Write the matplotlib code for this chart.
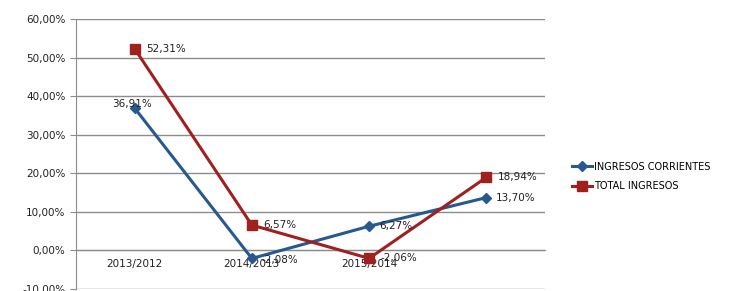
import matplotlib
matplotlib.use("Agg")
import matplotlib.pyplot as plt
from matplotlib.ticker import FuncFormatter

PERIODS = ["2013/2012", "2014/2013", "2015/2014", ""]
CORRIENTES = [36.91, -2.08, 6.27, 13.70]
TOTAL = [52.31, 6.57, -2.06, 18.94]
LABEL_CORR = "INGRESOS CORRIENTES"
LABEL_TOTAL = "TOTAL INGRESOS"

BLUE = "#27598f"
RED = "#a01f1f"

fig = plt.figure(figsize=(7.32, 2.91), dpi=100)
ax = fig.add_axes([0.1038, 0.0069, 0.6407, 0.9278])

xs = list(range(len(CORRIENTES)))
ax.plot(xs, CORRIENTES, color=BLUE, lw=2.2, marker="D", ms=5, label=LABEL_CORR, zorder=3)
ax.plot(xs, TOTAL, color=RED, lw=2.2, marker="s", ms=7, label=LABEL_TOTAL, zorder=3)

def pct(v):
    return f"{v:.2f}%".replace(".", ",")

fs = 7.5
# data labels
ax.annotate(pct(CORRIENTES[0]), (0, CORRIENTES[0]), xytext=(-2, 3), textcoords="offset points",
            ha="center", va="center", fontsize=fs, color="#222222", zorder=4)
for i in range(1, 4):
    ax.annotate(pct(CORRIENTES[i]), (i, CORRIENTES[i]), xytext=(7, -1 if i == 1 else 0),
                textcoords="offset points", ha="left", va="center", fontsize=fs, color="#222222")
for i in range(4):
    ax.annotate(pct(TOTAL[i]), (i, TOTAL[i]), xytext=(8, 0), textcoords="offset points",
                ha="left", va="center", fontsize=fs, color="#222222")

ax.set_xlim(-0.5, 3.5)
ax.set_ylim(-10, 60)
ax.set_yticks(range(-10, 61, 10))
ax.yaxis.set_major_formatter(FuncFormatter(lambda v, p: f"{v:.2f}%".replace(".", ",")))
ax.grid(axis="y", color="#8c8c8c", lw=1.0)
ax.set_axisbelow(True)

ax.set_xticks(xs)
ax.set_xticklabels(PERIODS)
ax.spines["bottom"].set_position(("data", 0))
ax.spines["bottom"].set_color("#8c8c8c")
ax.spines["top"].set_visible(False)
ax.spines["right"].set_visible(False)
ax.spines["left"].set_color("#8c8c8c")
ax.tick_params(axis="x", length=0, pad=6, labelsize=fs, labelcolor="#222222")
ax.tick_params(axis="y", length=4, color="#8c8c8c", labelsize=fs, labelcolor="#222222")

fig.legend(loc="upper left", bbox_to_anchor=(0.77, 0.475), frameon=False, fontsize=7,
           handlelength=2.0, labelspacing=1.0, handletextpad=0.2)

fig.savefig("out.png", dpi=100)
